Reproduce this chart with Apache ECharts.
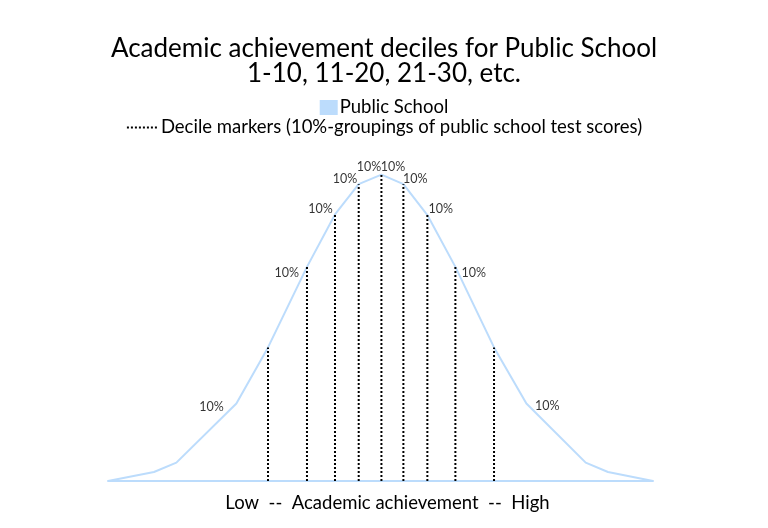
<!DOCTYPE html>
<html>
<head>
<meta charset="utf-8">
<script src="https://cdn.jsdelivr.net/npm/echarts@6/dist/echarts.min.js"></script>
<style>
html,body{margin:0;padding:0;background:#fff;}
#chart{width:768px;height:528px;}
</style>
</head>
<body>
<div id="chart"></div>
<script>
// Distribution curve (x: achievement 0-100, y: relative frequency 0-100)
const curveX = [0, 8.44, 12.55, 23.56, 29.36, 36.51, 41.65, 46.0, 50.17, 54.2, 58.6, 63.74, 70.83, 76.77, 87.65, 91.74, 100];
const curveY = [0, 2.94, 6.0, 25.3, 43.6, 69.9, 87.0, 96.9, 100, 96.9, 86.8, 69.9, 43.6, 25.3, 6.0, 2.94, 0];
// Decile marker positions and heights
const decileX = [29.36, 36.51, 41.65, 46.0, 50.17, 54.2, 58.6, 63.74, 70.83];
const decileY = [43.6, 69.9, 87.0, 96.9, 100, 96.9, 86.8, 69.9, 43.6];
// "10%" annotation anchors
const labelX = [18.97, 32.8, 38.97, 43.49, 47.9, 52.3, 56.4, 61.05, 67.1, 80.6];
const labelY = [24.2, 67.9, 88.9, 98.5, 102.4, 102.4, 98.5, 88.9, 68.0, 24.4];
const labelText = '10%';

const FONT = 'Lato, "Open Sans", sans-serif';
const BLUE = '#bcdcfc';

const curveData = curveX.map((x, i) => [x, curveY[i]]);
const markerData = [];
decileX.forEach((x, i) => {
  markerData.push([x, 0], [x, decileY[i]], '-');
});
const labelData = labelX.map((x, i) => [x, labelY[i]]);

const chart = echarts.init(document.getElementById('chart'), null, {renderer: 'canvas'});
chart.setOption({
  backgroundColor: '#fff',
  animation: false,
  title: {
    text: 'Academic achievement deciles for Public School\n1-10, 11-20, 21-30, etc.',
    left: 'center',
    top: 31,
    textStyle: {fontFamily: FONT, fontSize: 26, fontWeight: 'normal', color: '#000', lineHeight: 25}
  },
  legend: [
    {
      data: [{name: 'Public School', icon: 'rect'}],
      left: 'center', top: 93,
      itemWidth: 18, itemHeight: 15, itemGap: 2,
      textStyle: {fontFamily: FONT, fontSize: 18.5, color: '#000', padding: [0,0,0,-3]},
      selectedMode: false
    },
    {
      data: ['Decile markers (10%-groupings of public school test scores)'],
      left: 'center', top: 113,
      itemWidth: 31, itemHeight: 14,
      textStyle: {fontFamily: FONT, fontSize: 18.5, color: '#000', padding: [0,0,0,-2]},
      selectedMode: false
    }
  ],
  grid: {left: 108, right: 115, top: 144, bottom: 47},
  xAxis: {
    type: 'value', min: 0, max: 100,
    axisLine: {show: true, lineStyle: {color: BLUE, width: 2}},
    axisTick: {show: false},
    axisLabel: {show: false},
    splitLine: {show: false},
    name: 'Low  --  Academic achievement  --  High',
    nameLocation: 'middle', nameGap: 13,
    nameTextStyle: {fontFamily: FONT, fontSize: 18.5, color: '#000', padding: [0, 0, 0, 14]}
  },
  yAxis: {
    type: 'value', min: 0, max: 110, show: false,
    splitLine: {show: false}
  },
  series: [
    {
      name: 'Public School',
      type: 'line',
      data: curveData,
      symbol: 'none',
      itemStyle: {color: BLUE},
      lineStyle: {color: BLUE, width: 2},
      z: 2
    },
    {
      name: 'Decile markers (10%-groupings of public school test scores)',
      type: 'line',
      data: markerData,
      symbol: 'none',
      connectNulls: false,
      itemStyle: {color: 'rgba(0,0,0,0)', borderWidth: 0},
      lineStyle: {color: '#000', width: 2, type: [2, 2]},
      z: 3
    },
    {
      name: 'labels',
      type: 'scatter',
      data: labelData,
      symbolSize: 0,
      silent: true,
      label: {
        show: true, position: 'inside', formatter: labelText,
        fontFamily: FONT, fontSize: 12.5, color: '#000'
      }
    }
  ]
});
</script>
</body>
</html>
